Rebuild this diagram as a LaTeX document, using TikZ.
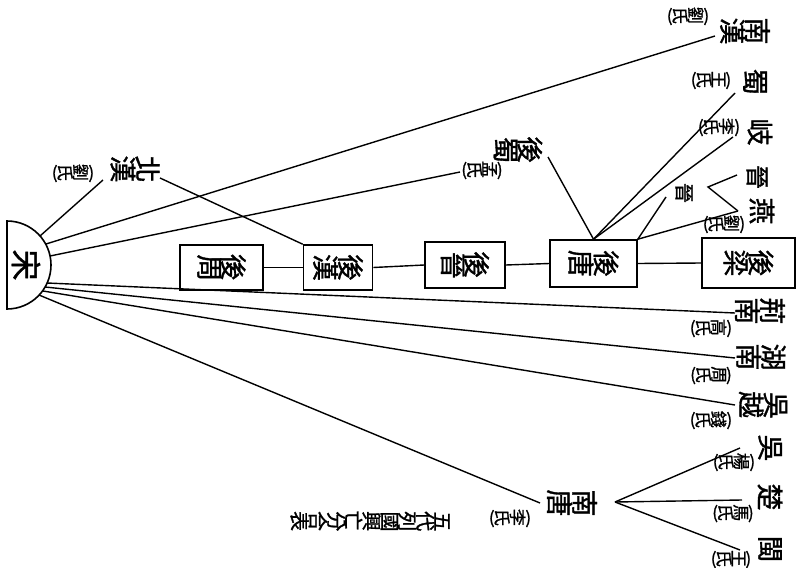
\documentclass[tikz,border=0pt]{standalone}
\usepackage{fontspec}
\usepackage{graphicx}
\newfontfamily\cjk[FakeBold=1.2]{Noto Sans CJK TC}
\newcommand\rc[1]{\rotatebox[origin=c]{-90}{#1}}
\begin{document}
\begin{tikzpicture}[x=1pt,y=-1pt,
  bigtxt/.style={inner sep=0pt, font=\cjk\fontsize{27}{29}\selectfont},
  midtxt/.style={inner sep=0pt, font=\cjk\fontsize{20}{21}\selectfont},
  notetxt/.style={inner sep=0pt, font=\cjk\fontsize{17}{18}\selectfont},
  framebox/.style={bigtxt, draw, line width=1.6pt},
  link/.style={line width=1.4pt}]
\fill[white] (0,0) rectangle (804,568);
\useasboundingbox (0,0) rectangle (804,568);

% Song semicircle
\draw[line width=1.6pt] (7,221) arc[start angle=90, end angle=-90, radius=44pt] -- cycle;
\node[bigtxt, font=\cjk\fontsize{31}{31}\selectfont] (song) at (26,265) {\rc{宋}};

% boxes (vertical text, page turned: read right to left)
\node[framebox, minimum width=83pt, minimum height=45pt] (hz) at (221.5,267.5) {\rc{周}\rc{後}};
\node[framebox, minimum width=69pt, minimum height=45pt] (hh) at (338,267.5) {\rc{漢}\rc{後}};
\node[framebox, minimum width=80pt, minimum height=46pt] (hj) at (465,265) {\rc{晉}\rc{後}};
\node[framebox, minimum width=87pt, minimum height=47pt] (ht) at (593.5,263.5) {\rc{唐}\rc{後}};
\node[framebox, minimum width=93pt, minimum height=50pt] (hl) at (748.5,263) {\rc{梁}\rc{後}};
\draw[link] (hz.east) -- (hh.west);
\draw[link] (hh.east) -- (hj.west);
\draw[link] (hj.east) -- (ht.west);
\draw[link] (ht.east) -- (hl.west);

% labels
\node[bigtxt] (nanhan) at (745,31) {\rc{漢}\rc{南}};
\node[notetxt] (nanhann) at (688,16) {(\rc{氏}\rc{劉})};
\node[bigtxt] (shu) at (755,82) {\rc{蜀}};
\node[notetxt] (shun) at (711,80) {(\rc{氏}\rc{王})};
\node[bigtxt] (qi) at (760,132) {\rc{岐}};
\node[notetxt] (qin) at (719,127) {(\rc{氏}\rc{李})};
\node[bigtxt, font=\cjk\fontsize{24}{24}\selectfont] (jin) at (757,177) {\rc{晉}};
\node[midtxt] (jins) at (684,193) {\rc{晉}};
\node[bigtxt] (yan) at (762,211) {\rc{燕}};
\node[notetxt] (yann) at (724,224) {(\rc{氏}\rc{劉})};
\node[bigtxt] (houshu) at (518,150) {\rc{蜀}\rc{後}};
\node[notetxt] (houshun) at (482,170) {(\rc{氏}\rc{孟})};
\node[bigtxt] (beihan) at (135,169) {\rc{漢}\rc{北}};
\node[notetxt] (beihann) at (73,173) {(\rc{氏}\rc{劉})};
\node[bigtxt] (jingnan) at (760,311) {\rc{南}\rc{荊}};
\node[notetxt] (jingnann) at (711,328) {(\rc{氏}\rc{高})};
\node[bigtxt] (hunan) at (761,357) {\rc{南}\rc{湖}};
\node[notetxt] (hunann) at (711,375) {(\rc{氏}\rc{周})};
\node[bigtxt] (wuyue) at (763,405) {\rc{越}\rc{吳}};
\node[notetxt] (wuyuen) at (711,420) {(\rc{氏}\rc{錢})};
\node[bigtxt] (nantang) at (572,503) {\rc{唐}\rc{南}};
\node[notetxt] (nantangn) at (510,518) {(\rc{氏}\rc{李})};
\node[midtxt] (title) at (370,521) {\rc{表}\rc{合}\rc{分}\rc{亡}\rc{興}\rc{國}\rc{列}\rc{代}\rc{五}};
\node[bigtxt] (wu) at (770,448) {\rc{吳}};
\node[notetxt] (wun) at (734,462) {(\rc{氏}\rc{楊})};
\node[bigtxt] (chu) at (770,497) {\rc{楚}};
\node[notetxt] (chun) at (733,513) {(\rc{氏}\rc{馬})};
\node[bigtxt] (min) at (770,549) {\rc{閩}};
\node[notetxt] (minn) at (731,559) {(\rc{氏}\rc{王})};

% connector end points
\coordinate (a1) at (40,236);
\coordinate (a2) at (46,244);
\coordinate (a3) at (50,256);
\coordinate (a4) at (47,283);
\coordinate (a5) at (45,287);
\coordinate (a6) at (43,291);
\coordinate (a7) at (39,295);
\coordinate (bh1) at (103,180);
\coordinate (bh2) at (160,178);
\coordinate (nh1) at (715,36);
\coordinate (hs1) at (460,172);
\coordinate (hs2) at (548,157);
\coordinate (sh1) at (735,93);
\coordinate (qi1) at (733,137);
\coordinate (jx1) at (666,197);
\coordinate (jx2) at (737,175);
\coordinate (jv) at (708,187);
\coordinate (yan1) at (738,211);
\coordinate (jn1) at (735,313);
\coordinate (hn1) at (735,358);
\coordinate (wy1) at (735,405);
\coordinate (nt1) at (540,503);
\coordinate (ntv) at (615,502);
\coordinate (wu1) at (740,448);
\coordinate (chu1) at (742,500);
\coordinate (min1) at (740,550);

\draw[link] (a1) -- (bh1);
\draw[link] (bh2) -- (hh.north west);
\draw[link] (a2) -- (nh1);
\draw[link] (a3) -- (hs1);
\draw[link] (ht.north) -- (hs2);
\draw[link] (ht.north) -- (sh1);
\draw[link] (ht.north) -- (qi1);
\draw[link] (ht.north east) -- (jx1);
\draw[link] (ht.north east) -- (yan1);
\draw[link] (jx2) -- (jv) -- (yan1);
\draw[link] (a4) -- (jn1);
\draw[link] (a5) -- (hn1);
\draw[link] (a6) -- (wy1);
\draw[link] (a7) -- (nt1);
\draw[link] (ntv) -- (wu1);
\draw[link] (ntv) -- (chu1);
\draw[link] (ntv) -- (min1);
\end{tikzpicture}
\end{document}
